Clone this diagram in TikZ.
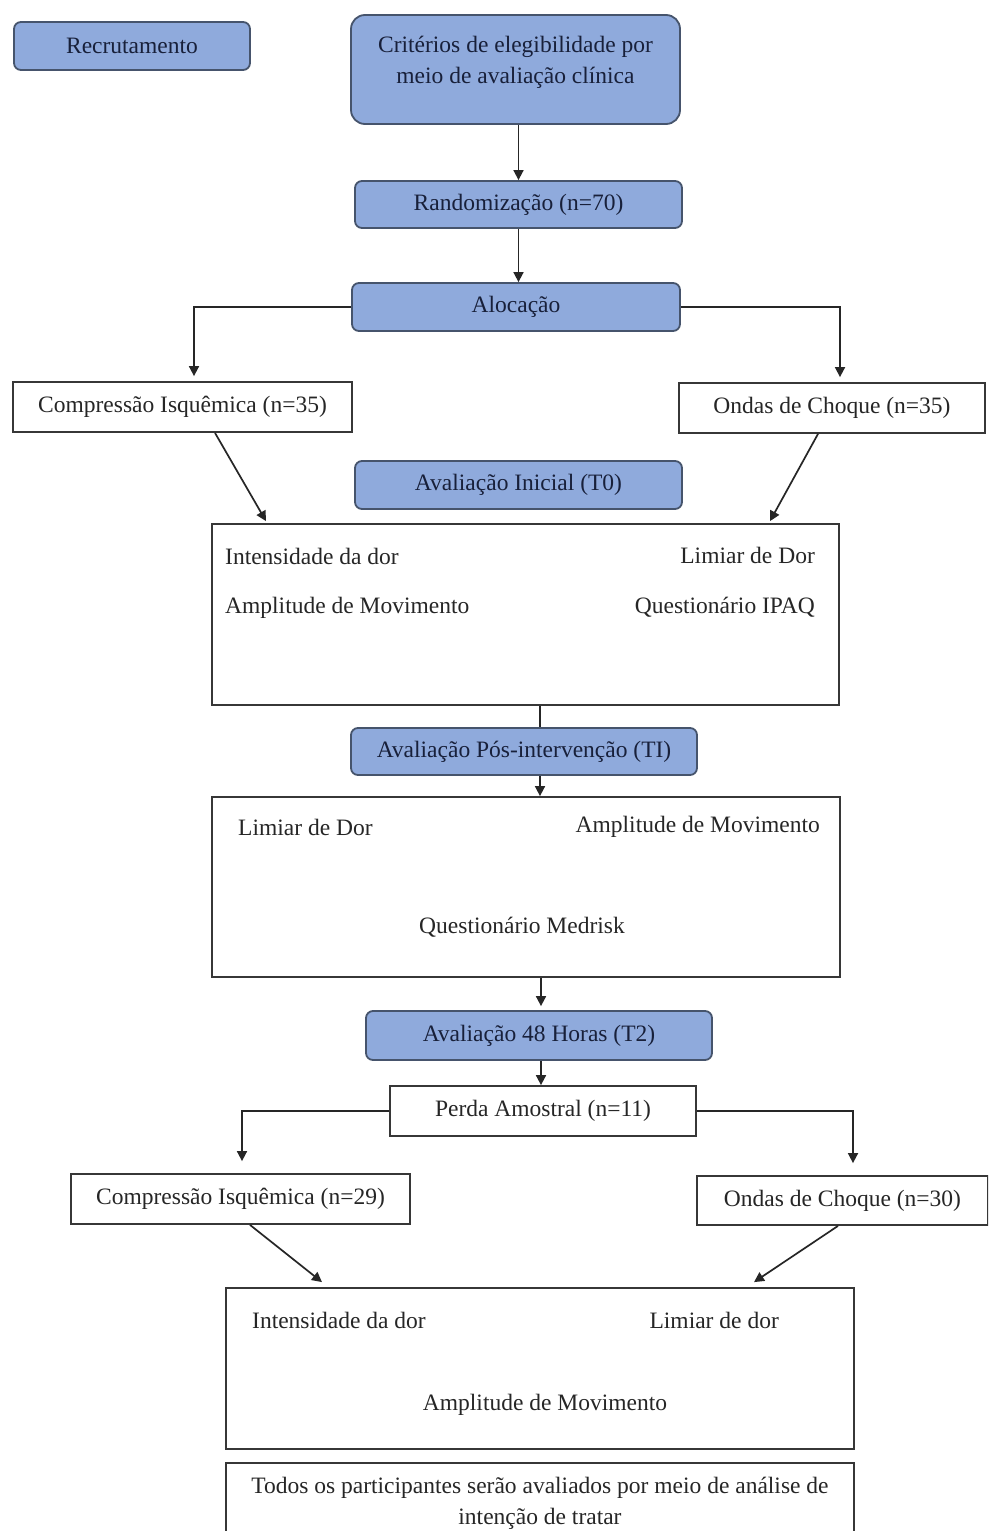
\documentclass[tikz,border=0pt]{standalone}
\usepackage{fontspec}
\setmainfont{Liberation Serif}
\usetikzlibrary{arrows.meta}
\definecolor{boxblue}{RGB}{143,170,220}
\definecolor{boxborder}{RGB}{70,84,108}
\definecolor{navytext}{RGB}{24,32,58}
\definecolor{wborder}{RGB}{55,55,55}
\tikzset{
  bluebox/.style={draw=boxborder, fill=boxblue, rounded corners=7pt, line width=1.8pt, inner sep=0pt, text=navytext, font=\fontsize{23.5}{31}\selectfont},
  whitebox/.style={draw=wborder, fill=white, line width=1.8pt, inner sep=0pt, font=\fontsize{23.5}{31}\selectfont, text=black!85},
  lbl/.style={inner sep=0pt, font=\fontsize{23.5}{31}\selectfont, text=black!85},
  arr/.style={-{Triangle[width=10pt,length=10pt]}, line width=1.7pt, draw=black!85},
  conn/.style={line width=1.7pt, draw=black!85}
}
\begin{document}
\begin{tikzpicture}[x=1pt,y=-1pt]
\clip (0,0) rectangle (988,1531);
\fill[white] (0,0) rectangle (988,1531);

% top row
\node[bluebox, minimum width=236pt, minimum height=48pt] (rec) at (132,46) {Recrutamento};
\node[bluebox, rounded corners=14pt, minimum width=329pt, minimum height=109pt] (crit) at (515.5,69.5) {};
\node[lbl, text=navytext, align=center] (critt) at (515.5,62) {Critérios de elegibilidade por\\meio de avaliação clínica};

\node[bluebox, minimum width=327pt, minimum height=47pt] (rand) at (518.5,204.5) {Randomização (n=70)};
\node[bluebox, minimum width=328pt, minimum height=48pt] (aloc) at (516,307) {Alocação};

\node[whitebox, minimum width=339pt, minimum height=50pt] (ci1) at (182.5,407) {Compressão Isquêmica (n=35)};
\node[whitebox, minimum width=306pt, minimum height=50pt] (oc1) at (832,408) {Ondas de Choque (n=35)};

\node[bluebox, minimum width=327pt, minimum height=48pt] (t0) at (518.5,485) {Avaliação Inicial (T0)};

\node[whitebox, minimum width=627pt, minimum height=181pt] (b1) at (525.5,614.5) {};
\node[lbl, anchor=west] (b1a) at (225,556) {Intensidade da dor};
\node[lbl, anchor=west] (b1b) at (225,608) {Amplitude de Movimento};
\node[lbl, anchor=east] (b1c) at (815,555) {Limiar de Dor};
\node[lbl, anchor=east] (b1d) at (815,607) {Questionário IPAQ};

\node[bluebox, minimum width=346pt, minimum height=47pt] (pos) at (524,751.5) {Avaliação Pós-intervenção (TI)};

\node[whitebox, minimum width=628pt, minimum height=180pt] (b2) at (526,887) {};
\node[lbl, anchor=west] (b2a) at (238,827) {Limiar de Dor};
\node[lbl, anchor=east] (b2b) at (820,827) {Amplitude de Movimento};
\node[lbl] (b2c) at (522,927) {Questionário Medrisk};

\node[bluebox, minimum width=346pt, minimum height=49pt] (t2) at (539,1035.5) {Avaliação 48 Horas (T2)};
\node[whitebox, minimum width=306pt, minimum height=50pt] (perda) at (543,1111) {Perda Amostral (n=11)};

\node[whitebox, minimum width=339pt, minimum height=50pt] (ci2) at (240.5,1199) {Compressão Isquêmica (n=29)};
\node[whitebox, minimum width=291pt, minimum height=49pt] (oc2) at (842.5,1200.5) {Ondas de Choque (n=30)};

\node[whitebox, minimum width=628pt, minimum height=161pt] (b3) at (540,1368.5) {};
\node[lbl, anchor=west] (b3a) at (252,1320) {Intensidade da dor};
\node[lbl, anchor=east] (b3b) at (779,1320) {Limiar de dor};
\node[lbl] (b3c) at (545,1405) {Amplitude de Movimento};

\node[whitebox, minimum width=628pt, minimum height=90pt] (b4) at (540,1508) {};
\node[lbl, align=center] (b4t) at (540,1503) {Todos os participantes serão avaliados por meio de análise de\\intenção de tratar};

% connectors
\draw[arr] (crit.south -| rand.north) -- (rand.north);
\draw[arr] (rand.south) -- (rand.south |- aloc.north);
\draw[arr] (aloc.west) -| ([xshift=11.5pt,yshift=5pt]ci1.north);
\draw[arr] (aloc.east) -| ([xshift=8pt,yshift=5pt]oc1.north);
\draw[arr] ([xshift=32.5pt]ci1.south) -- ([xshift=-259.5pt,yshift=2pt]b1.north);
\draw[arr] ([xshift=-14pt]oc1.south) -- ([xshift=244.5pt,yshift=2pt]b1.north);
\draw[conn] ([xshift=14.5pt]b1.south) -- ([xshift=16pt]pos.north);
\draw[arr] ([xshift=16pt]pos.south) -- ([xshift=14pt]b2.north);
\draw[arr] ([xshift=15pt]b2.south) -- ([xshift=2pt,yshift=4pt]t2.north);
\draw[arr] ([xshift=2pt]t2.south) -- ([xshift=-2pt]perda.north);
\draw[arr] (perda.west) -| ([xshift=1.5pt,yshift=12pt]ci2.north);
\draw[arr] (perda.east) -| ([xshift=10.5pt,yshift=12pt]oc2.north);
\draw[arr] ([xshift=9.5pt]ci2.south) -- ([xshift=-218pt,yshift=5pt]b3.north);
\draw[arr] ([xshift=-4.5pt]oc2.south) -- ([xshift=214pt,yshift=5pt]b3.north);
\end{tikzpicture}
\end{document}
